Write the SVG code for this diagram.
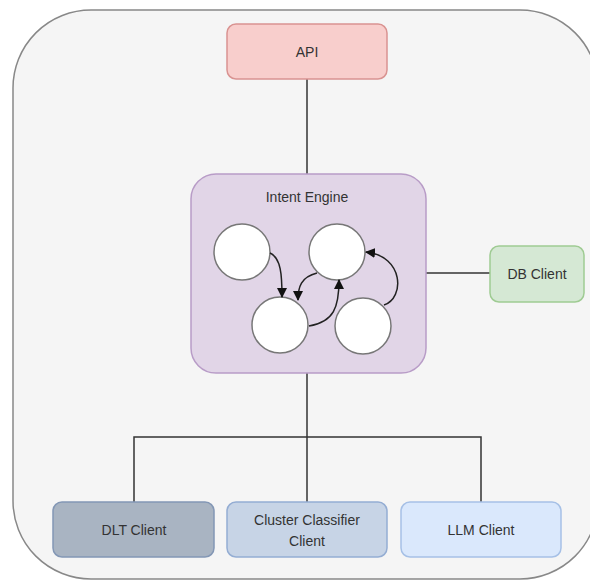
<svg xmlns="http://www.w3.org/2000/svg" width="590" height="582" viewBox="0 0 590 582">
<defs>
<style>
text{font-family:"Liberation Sans",Arial,sans-serif;font-size:14px;fill:#333;text-anchor:middle;dominant-baseline:central}
.box{stroke-width:1.5}
.conn{fill:none;stroke:#333;stroke-width:1.5}
.circ{fill:#fff;stroke:#777;stroke-width:1.5}
</style>
<marker id="ah" viewBox="0 0 10 10" refX="9" refY="5" markerWidth="10" markerHeight="10" orient="auto" markerUnits="userSpaceOnUse">
<path d="M0,0 L10,5 L0,10 Z" fill="#111"/>
</marker>
</defs>
<rect width="590" height="582" fill="#fff"/>
<g id="container">
<rect x="13" y="10" width="585" height="569" rx="78" fill="#f5f5f5" stroke="#888" stroke-width="1.5"/>
</g>
<g id="connectors">
<line class="conn" x1="307" y1="79" x2="307" y2="174"/>
<line class="conn" x1="426" y1="273" x2="490" y2="273"/>
<polyline class="conn" points="307,373 307,437"/>
<polyline class="conn" points="134,502 134,437 481,437 481,502"/>
<line class="conn" x1="307" y1="437" x2="307" y2="502"/>
</g>
<g id="api">
<rect class="box" x="227" y="24" width="160" height="55" rx="9" fill="#f8cecc" stroke="#d99391"/>
<text x="307" y="52">API</text>
</g>
<g id="intent-engine">
<rect class="box" x="191" y="174" width="235" height="199" rx="25" fill="#e1d5e7" stroke="#b89cc7"/>
<text x="307" y="197">Intent Engine</text>
<circle class="circ" cx="242" cy="252" r="28"/>
<circle class="circ" cx="337" cy="252" r="28"/>
<circle class="circ" cx="280" cy="325" r="28"/>
<circle class="circ" cx="363" cy="326" r="28"/>
<g fill="none" stroke="#222" stroke-width="1.5">
<path d="M270,253 C281,258 282,275 282,297" marker-end="url(#ah)"/>
<path d="M317,273 C301,277 298,287 298,300" marker-end="url(#ah)"/>
<path d="M309,326 C334,322 339,307 339,280" marker-end="url(#ah)"/>
<path d="M384,305 C405,298 404,256 366,252" marker-end="url(#ah)"/>
</g>
</g>
<g id="db-client">
<rect class="box" x="490" y="246" width="94" height="56" rx="9" fill="#d5e8d4" stroke="#9fcb93"/>
<text x="537" y="274">DB Client</text>
</g>
<g id="dlt-client">
<rect class="box" x="53" y="502" width="161" height="55" rx="9" fill="#a9b4c2" stroke="#8397b5"/>
<text x="134" y="530">DLT Client</text>
</g>
<g id="cluster-classifier-client">
<rect class="box" x="227" y="502" width="160" height="55" rx="9" fill="#c7d4e6" stroke="#94add3"/>
<text x="307" y="520">Cluster Classifier</text>
<text x="307" y="541">Client</text>
</g>
<g id="llm-client">
<rect class="box" x="401" y="502" width="160" height="55" rx="9" fill="#dae8fc" stroke="#a6c0e6"/>
<text x="481" y="530">LLM Client</text>
</g>
</svg>
